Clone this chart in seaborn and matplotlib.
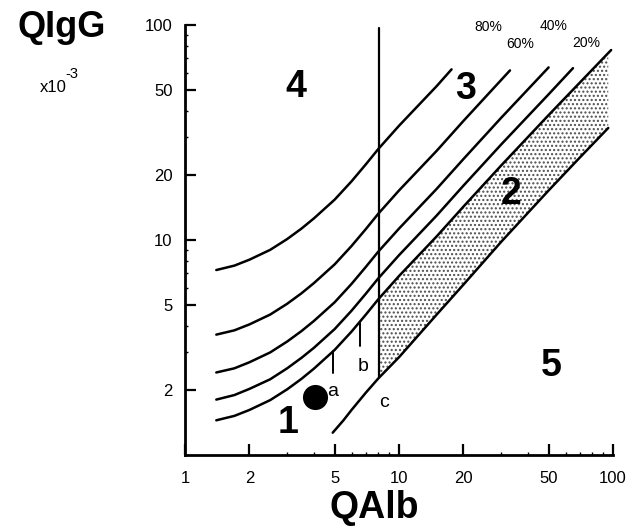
import pandas as pd
import seaborn as sns
import matplotlib.pyplot as plt
from matplotlib.ticker import LogLocator, NullFormatter

# curves, QAlb and QIgG both in units of 10^-3
qalb = [1.4, 1.7, 2, 2.5, 3, 3.5, 4, 5, 6, 7, 8, 10, 15, 20, 30, 50, 70, 98]
qlim = [1.45, 1.52, 1.62, 1.80, 2.02, 2.26, 2.52, 3.08, 3.75, 4.5, 5.3, 6.8,
        10.4, 14.3, 22.2, 38.1, 54, 76.5]

qalb_20 = [1.4, 1.7, 2, 2.5, 3, 3.5, 4, 5, 6, 7, 8, 10, 15, 20, 30, 50, 65]
q_20 = [1.81, 1.90, 2.03, 2.25, 2.53, 2.83, 3.15, 3.85, 4.69, 5.63, 6.63, 8.5,
        13.0, 17.9, 27.8, 47.6, 63]

qalb_40 = [1.4, 1.7, 2, 2.5, 3, 3.5, 4, 5, 6, 7, 8, 10, 15, 20, 30, 50]
q_40 = [2.42, 2.53, 2.70, 3.0, 3.37, 3.77, 4.2, 5.13, 6.25, 7.5, 8.83, 11.3,
        17.3, 23.8, 37, 63.5]

qalb_60 = [1.4, 1.7, 2, 2.5, 3, 3.5, 4, 5, 6, 7, 8, 10, 15, 20, 33]
q_60 = [3.63, 3.8, 4.05, 4.5, 5.05, 5.65, 6.3, 7.7, 9.38, 11.25, 13.25, 17,
        26, 35.8, 61.5]

qalb_80 = [1.4, 1.7, 2, 2.5, 3, 3.5, 4, 5, 6, 7, 8, 10, 15, 17.6]
q_80 = [7.25, 7.6, 8.1, 9.0, 10.1, 11.3, 12.6, 15.4, 18.75, 22.5, 26.5, 34,
        52, 62.2]

qalb_low = [4.9, 5.5, 6, 7, 8, 10, 15, 20, 30, 50, 70, 95]
q_low = [1.27, 1.45, 1.62, 1.95, 2.27, 2.85, 4.5, 6.2, 9.8, 17, 24.2, 33.2]

# shaded band (area 2)
band_x = [8.1, 10, 15, 20, 30, 50, 70, 95]
band_top = [5.4, 6.8, 10.4, 14.3, 22.2, 38.1, 54, 74.1]
band_bot = [2.3, 2.85, 4.5, 6.2, 9.8, 17, 24.2, 33.2]

vline_x = 8.1
vline_y = [2.3, 97]
mark_a_x, mark_a_y = 4.9, [2.4, 3.03]
mark_b_x, mark_b_y = 6.57, [3.23, 4.1]
dot_x, dot_y = 4.05, 1.87

region_labels = ['1', '2', '3', '4', '5']
region_x = [3.04, 33.4, 20.4, 3.29, 51.7]
region_y = [1.41, 16.3, 50.5, 51.5, 2.6]

pct_labels = ['80%', '60%', '40%', '20%']
pct_x = [26.1, 36.8, 52.5, 74.8]
pct_y = [97.9, 81.7, 98.9, 82.6]

letters = ['a', 'b', 'c']
letter_x = [4.92, 6.77, 8.54]
letter_y = [1.98, 2.59, 1.75]

xticks = [1, 2, 5, 10, 20, 50, 100]
yticks = [2, 5, 10, 20, 50, 100]

sns.set_theme(style='ticks')
plt.rcParams['font.family'] = ['Liberation Sans', 'DejaVu Sans']
plt.rcParams['text.color'] = 'black'

fig = plt.figure(figsize=(6.27, 5.29), dpi=100)
ax = fig.add_axes([0.2951, 0.1399, 0.6826, 0.8128])
ax.set_xscale('log')
ax.set_yscale('log')

ax.fill_between(band_x, band_bot, band_top, facecolor='white',
                edgecolor='0.3', hatch='....', linewidth=0)

curves = [(qalb, qlim), (qalb_20, q_20), (qalb_40, q_40),
          (qalb_60, q_60), (qalb_80, q_80), (qalb_low, q_low)]
for xs, ys in curves:
    sns.lineplot(x=xs, y=ys, ax=ax, color='black', linewidth=1.8,
                 estimator=None, sort=False)

sns.lineplot(x=[vline_x, vline_x], y=vline_y, ax=ax, color='black',
             linewidth=1.6, estimator=None, sort=False)
sns.lineplot(x=[mark_a_x, mark_a_x], y=mark_a_y, ax=ax, color='black',
             linewidth=1.4, estimator=None, sort=False)
sns.lineplot(x=[mark_b_x, mark_b_x], y=mark_b_y, ax=ax, color='black',
             linewidth=1.4, estimator=None, sort=False)
sns.scatterplot(x=[dot_x], y=[dot_y], ax=ax, s=280, color='black',
                edgecolor='black')

for t, x, y in zip(region_labels, region_x, region_y):
    ax.text(x, y, t, fontsize=27, fontweight='bold', ha='center', va='center',
            color='black')
for t, x, y in zip(pct_labels, pct_x, pct_y):
    ax.text(x, y, t, fontsize=10, ha='center', va='center', color='black')
for t, x, y in zip(letters, letter_x, letter_y):
    ax.text(x, y, t, fontsize=14, ha='center', va='center', color='black')

ax.set_xlim(1, 100)
ax.set_ylim(1, 100)
ax.set_xticks(xticks)
ax.set_xticklabels([str(v) for v in xticks])
ax.set_yticks(yticks)
ax.set_yticklabels([str(v) for v in yticks])
ax.xaxis.set_minor_locator(LogLocator(base=10, subs=range(2, 10)))
ax.yaxis.set_minor_locator(LogLocator(base=10, subs=range(2, 10)))
ax.xaxis.set_minor_formatter(NullFormatter())
ax.yaxis.set_minor_formatter(NullFormatter())
ax.tick_params(which='both', colors='black', labelcolor='black')
ax.tick_params(which='major', direction='in', length=8, width=1.6,
               labelsize=12)
ax.tick_params(axis='x', which='major', pad=11.5)
ax.tick_params(axis='y', which='major', pad=9)
ax.tick_params(which='minor', direction='in', length=2.5, width=1)
sns.despine(ax=ax)
for side in ['left', 'bottom']:
    ax.spines[side].set_linewidth(2)
    ax.spines[side].set_color('black')
ax.set_xlabel('')
ax.set_ylabel('')
ax.grid(False)

fig.text(62 / 627, 1 - 37 / 529, 'QIgG', fontsize=26, fontweight='bold',
         ha='center', va='baseline')
fig.text(374 / 627, 1 - 518 / 529, 'QAlb', fontsize=27, fontweight='bold',
         ha='center', va='baseline')
fig.text(40 / 627, 1 - 91.5 / 529, 'x10', fontsize=12, ha='left',
         va='baseline')
fig.text(65 / 627, 1 - 78 / 529, '-3', fontsize=10.5, ha='left',
         va='baseline')

fig.savefig('out.png', dpi=100)
